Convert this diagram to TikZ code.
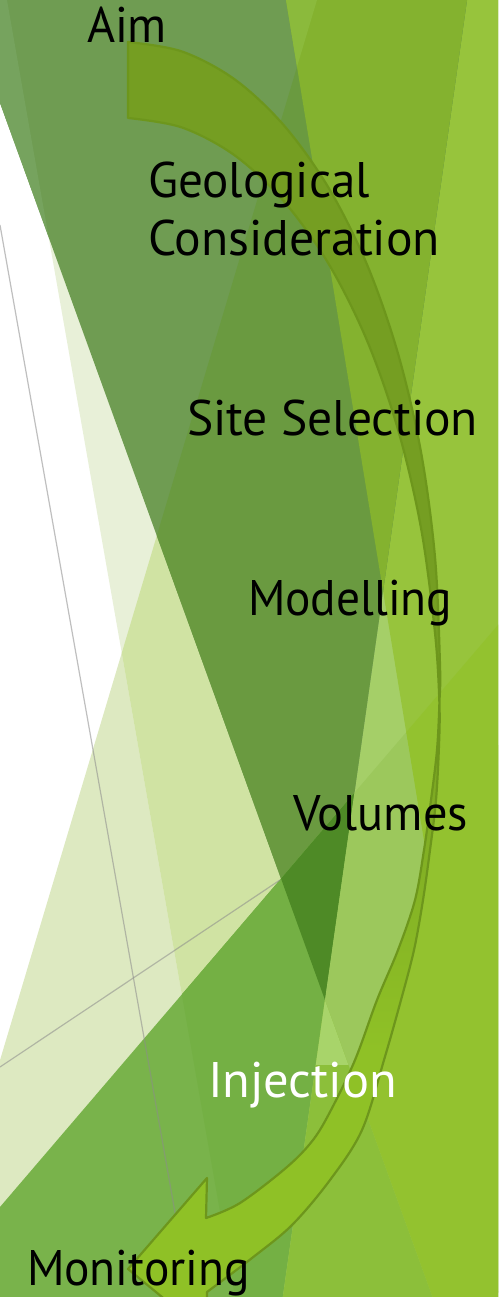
\documentclass[tikz,border=0pt]{standalone}
\usepackage{fontspec}
\setmainfont{PT Sans}
\usepackage{graphicx}
\definecolor{cY}{HTML}{DDE9C1}
\definecolor{cX}{HTML}{E8F0D8}
\definecolor{cXY}{HTML}{D0E3A3}
\definecolor{cK}{HTML}{A5CF68}
\definecolor{cO}{HTML}{97C43C}
\definecolor{cMX}{HTML}{6F9C52}
\definecolor{cM}{HTML}{76A35E}
\definecolor{cMY}{HTML}{6A9A40}
\definecolor{cMO}{HTML}{84B22F}
\definecolor{cMOs}{HTML}{8BBA3C}
\definecolor{cW}{HTML}{79B34B}
\definecolor{cWX}{HTML}{74B044}
\definecolor{cMZ}{HTML}{4E8A26}
\definecolor{cKZ}{HTML}{9CC85C}
\definecolor{cOZ}{HTML}{93C22F}
\definecolor{cWedge}{HTML}{8CBF3A}
\definecolor{cWedgeTop}{HTML}{A8D46A}
\definecolor{arOlive}{HTML}{759E22}
\definecolor{arBright}{HTML}{8FC126}
\definecolor{arLine}{HTML}{6D961C}
\definecolor{lineGrey}{HTML}{8C8C8C}
\tikzset{
  greyline/.style={draw=lineGrey, draw opacity=0.55, line width=1.2pt},
  arrowline/.style={draw=arLine, line width=2.2pt, line join=round},
  lbl/.style={anchor=base west, inner sep=0pt, outer sep=0pt, font=\fontsize{50}{57}\selectfont},
}
\def\Mtri{(-73.5,-100) -- (481.2,-100) -- (325,1000) -- cycle}
\def\Rmr{(481.2,-100) -- (700,-100) -- (700,1500) -- (254,1500) -- cycle}
\def\Lmr{(-200,-100) -- (481.2,-100) -- (254,1500) -- (-200,1500) -- cycle}
\def\Rml{(-73.5,-100) -- (700,-100) -- (700,1500) -- (506,1500) -- cycle}
\def\Lml{(-200,-100) -- (-73.5,-100) -- (506,1500) -- (-200,1500) -- cycle}
\def\Xr{(-10.6,-100) -- (700,-100) -- (700,1500) -- (270.7,1500) -- cycle}
\def\Xl{(-200,-100) -- (-10.6,-100) -- (270.7,1500) -- (-200,1500) -- cycle}
\def\Yr{(346.9,-100) -- (700,-100) -- (700,1500) -- (-131.5,1500) -- cycle}
\def\Yl{(-200,-100) -- (346.9,-100) -- (-131.5,1500) -- (-200,1500) -- cycle}
\def\Or{(269.6,-100) -- (700,-100) -- (700,1500) -- (532.3,1500) -- cycle}
\def\Ol{(-200,-100) -- (269.6,-100) -- (532.3,1500) -- (-200,1500) -- cycle}
\def\Zr{(-200,1440.7) -- (700,388.9) -- (700,1600) -- (-200,1600) -- cycle}
\def\RightOfArrow{(439,745) -- (436,800) -- (430,850) -- (422,900) -- (413,950) -- (400,1000) -- (384,1060) -- (362,1130) -- (330,1180) -- (292,1225) -- (252,1258) -- (200,1300) -- (700,1300) -- (700,745) -- cycle}
\def\ArrowPath{plot[smooth, tension=0.55] coordinates {(128,42) (182,51.5) (235,79.6) (284,125.5) (328.6,187.8) (367,264.5) (398,353.5) (421,452) (435,557) (440,665) (439.4,703) (437,750) (431,800) (424,850) (415,900) (398,950) (377,1000) (355,1060) (331,1110) (313,1140) (287,1167) (240,1203) (206,1218)}
  -- (207,1178) -- (128,1269) -- (207,1334) -- (207,1292)
  -- plot[smooth, tension=0.55] coordinates {(207,1292) (252,1258) (292,1225) (330,1180) (362,1130) (384,1060) (401,1000) (414,950) (423,900) (430,850) (436,800) (439,745) (439.4,703) (435,633) (421,528) (398,429.5) (367,340.5) (328.6,263.8) (284,201.5) (235,155.6) (182,127.5) (128,118)}
  -- cycle}
\begin{document}
\begin{tikzpicture}[x=1pt, y=-1pt]
\useasboundingbox (0,0) rectangle (498,1297);
\clip (0,0) rectangle (498,1297);
% background facets
\fill[white] (0,0) rectangle (498,1297);
\fill[cY] \Yr;
\fill[cX] \Xr;
\begin{scope}\clip \Xr; \fill[cXY] \Yr; \end{scope}
\fill[cK] \Rmr;
\fill[cO] \Or;
\fill[cMX] \Mtri;
\begin{scope}
  \clip \Mtri;
  \fill[cM] \Xl;
  \fill[cMY] \Yr;
  \fill[cMO] \Or;
  \clip \Or;
  \fill[cMOs] \Yl;
\end{scope}
\begin{scope}
  \clip \Zr;
  \fill[cW] \Lmr;
  \begin{scope}\clip \Xr; \fill[cWX] \Lmr; \end{scope}
  \fill[cMZ] \Mtri;
  \begin{scope}\clip \Rmr; \fill[cKZ] \Ol; \end{scope}
  \fill[cOZ] \Or;
  \begin{scope}\clip \Rmr; \fill[cWedge] \Lml; \clip \Lml; \fill[cWedgeTop] (0,990) rectangle (700,1065); \end{scope}
  \begin{scope}\clip \Rml; \fill[cOZ] \RightOfArrow; \end{scope}
\end{scope}
% thin lines
\coordinate (g1a) at (0,225);
\coordinate (g1b) at (190,1297);
\coordinate (g2a) at (0,1067);
\coordinate (g2b) at (280,880);
\draw[greyline] (g1a) -- (g1b);
\draw[greyline] (g2a) -- (g2b);
% curved arrow
\begin{scope}
  \clip \ArrowPath;
  \fill[arOlive] (0,0) rectangle (498,650);
  \shade[top color=arOlive, bottom color=arBright] (0,650) rectangle (498,1050);
  \fill[arBright] (0,1050) rectangle (498,1400);
\end{scope}
\draw[arrowline] \ArrowPath;
% labels
\node[lbl] (aim) at (87,43) {\resizebox{80pt}{\height}{Aim}};
\node[lbl] (geo1) at (148,198) {\resizebox{222pt}{\height}{Geological}};
\node[lbl] (geo2) at (148,255) {\resizebox{292pt}{\height}{Consideration}};
\node[lbl] (site) at (187,435) {\resizebox{291pt}{\height}{Site Selection}};
\node[lbl] (model) at (248,615) {\resizebox{204pt}{\height}{Modelling}};
\node[lbl] (vol) at (293,830) {\resizebox{175pt}{\height}{Volumes}};
\node[lbl, text=white] (inj) at (208,1097) {\resizebox{189pt}{\height}{Injection}};
\node[lbl] (mon) at (27,1285) {\resizebox{223pt}{\height}{Monitoring}};
\end{tikzpicture}
\end{document}
